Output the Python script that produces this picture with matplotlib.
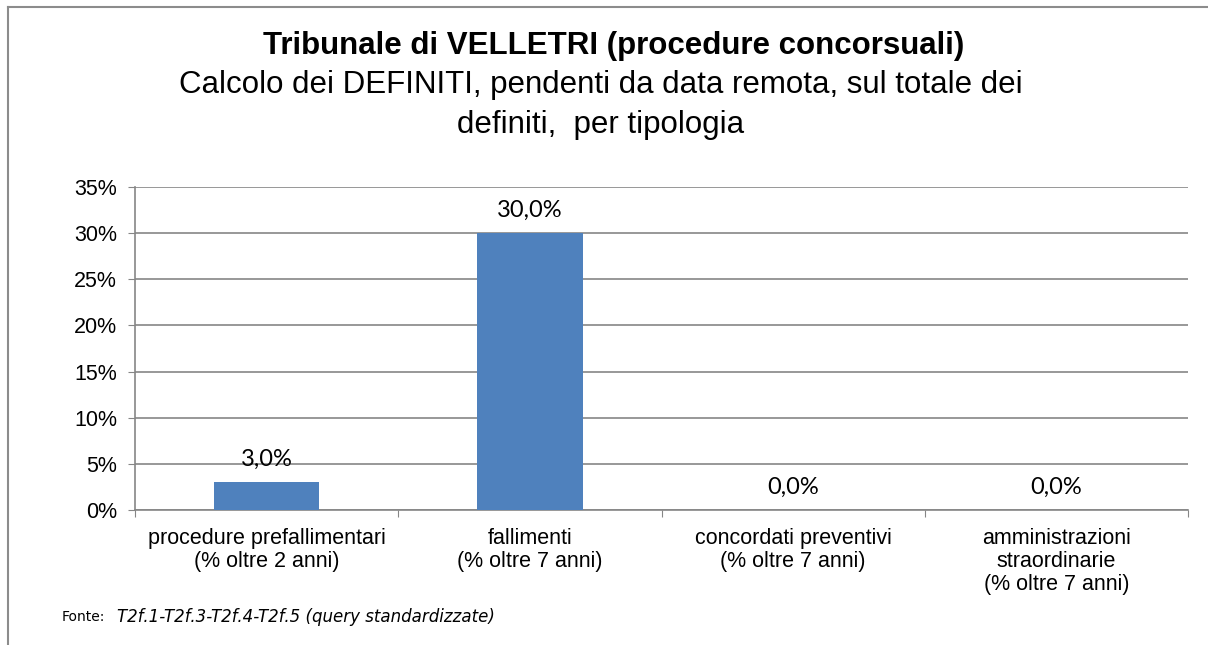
import matplotlib
matplotlib.use("Agg")
import matplotlib.pyplot as plt
from matplotlib.lines import Line2D
from matplotlib.ticker import FuncFormatter

categories = ["procedure prefallimentari\n(% oltre 2 anni)",
              "fallimenti\n(% oltre 7 anni)",
              "concordati preventivi\n(% oltre 7 anni)",
              "amministrazioni\nstraordinarie\n(% oltre 7 anni)"]
values = [3.0, 30.0, 0.0, 0.0]
value_labels = ["3,0%", "30,0%", "0,0%", "0,0%"]
yticks = [0, 5, 10, 15, 20, 25, 30, 35]

W, H = 1208, 645
fig = plt.figure(figsize=(W/100, H/100), dpi=100)
fig.patch.set_facecolor("white")

# frame lines (top and left)
fig.add_artist(Line2D([8/W, 1], [1-7/H, 1-7/H], color="#8c8c8c", lw=1.5))
fig.add_artist(Line2D([8/W, 8/W], [0, 1-7/H], color="#8c8c8c", lw=1.5))

ax = fig.add_axes([135/W, 1-510/H, (1188-135)/W, (510-187)/H])
x = list(range(len(categories)))
ax.bar(x, values, width=0.4, color="#4F81BD", zorder=3)
ax.set_xlim(-0.5, 3.5)
ax.set_ylim(0, 35)
ax.set_yticks(yticks)
ax.yaxis.set_major_formatter(FuncFormatter(lambda v, p: f"{int(v)}%"))
ax.grid(axis="y", color="#868686", lw=1.2, zorder=0)
for s in ["top", "right"]:
    ax.spines[s].set_visible(False)
for s in ["left", "bottom"]:
    ax.spines[s].set_color("#868686")
    ax.spines[s].set_linewidth(1.2)
ax.set_xticks([-0.5, 0.5, 1.5, 2.5, 3.5])
ax.set_xticklabels([])
ax.tick_params(axis="x", length=5, color="#868686", direction="out")
ax.tick_params(axis="y", length=5, color="#868686", labelsize=15.5, pad=8)
for lbl in ax.get_yticklabels():
    lbl.set_fontfamily("Liberation Sans")

for xi, lab in zip(x, categories):
    ax.text(xi, -2.0, lab, ha="center", va="top", fontsize=15.5,
            family="Liberation Sans", linespacing=1.12,
            transform=ax.transData)

for xi, v, lab in zip(x, values, value_labels):
    ax.annotate(lab, (xi, v), xytext=(0, 9), textcoords="offset points",
                ha="center", va="bottom", fontsize=17, family="Lato")

fig.text(0.508, 1-46/H, "Tribunale di VELLETRI (procedure concorsuali)",
         ha="center", va="center", fontsize=22.5, fontweight="bold",
         family="Liberation Sans")
fig.text(0.4975, 1-105/H, "Calcolo dei DEFINITI, pendenti da data remota, sul totale dei\ndefiniti,  per tipologia",
         ha="center", va="center", fontsize=22.5, family="Liberation Sans",
         linespacing=1.42)

fig.text(62/W, 1-617/H, "Fonte:", ha="left", va="center", fontsize=10,
         family="DejaVu Sans")
fig.text(117/W, 1-617/H, "T2f.1-T2f.3-T2f.4-T2f.5 (query standardizzate)",
         ha="left", va="center", fontsize=12, family="DejaVu Sans",
         style="italic")

fig.savefig("out.png", dpi=100)
